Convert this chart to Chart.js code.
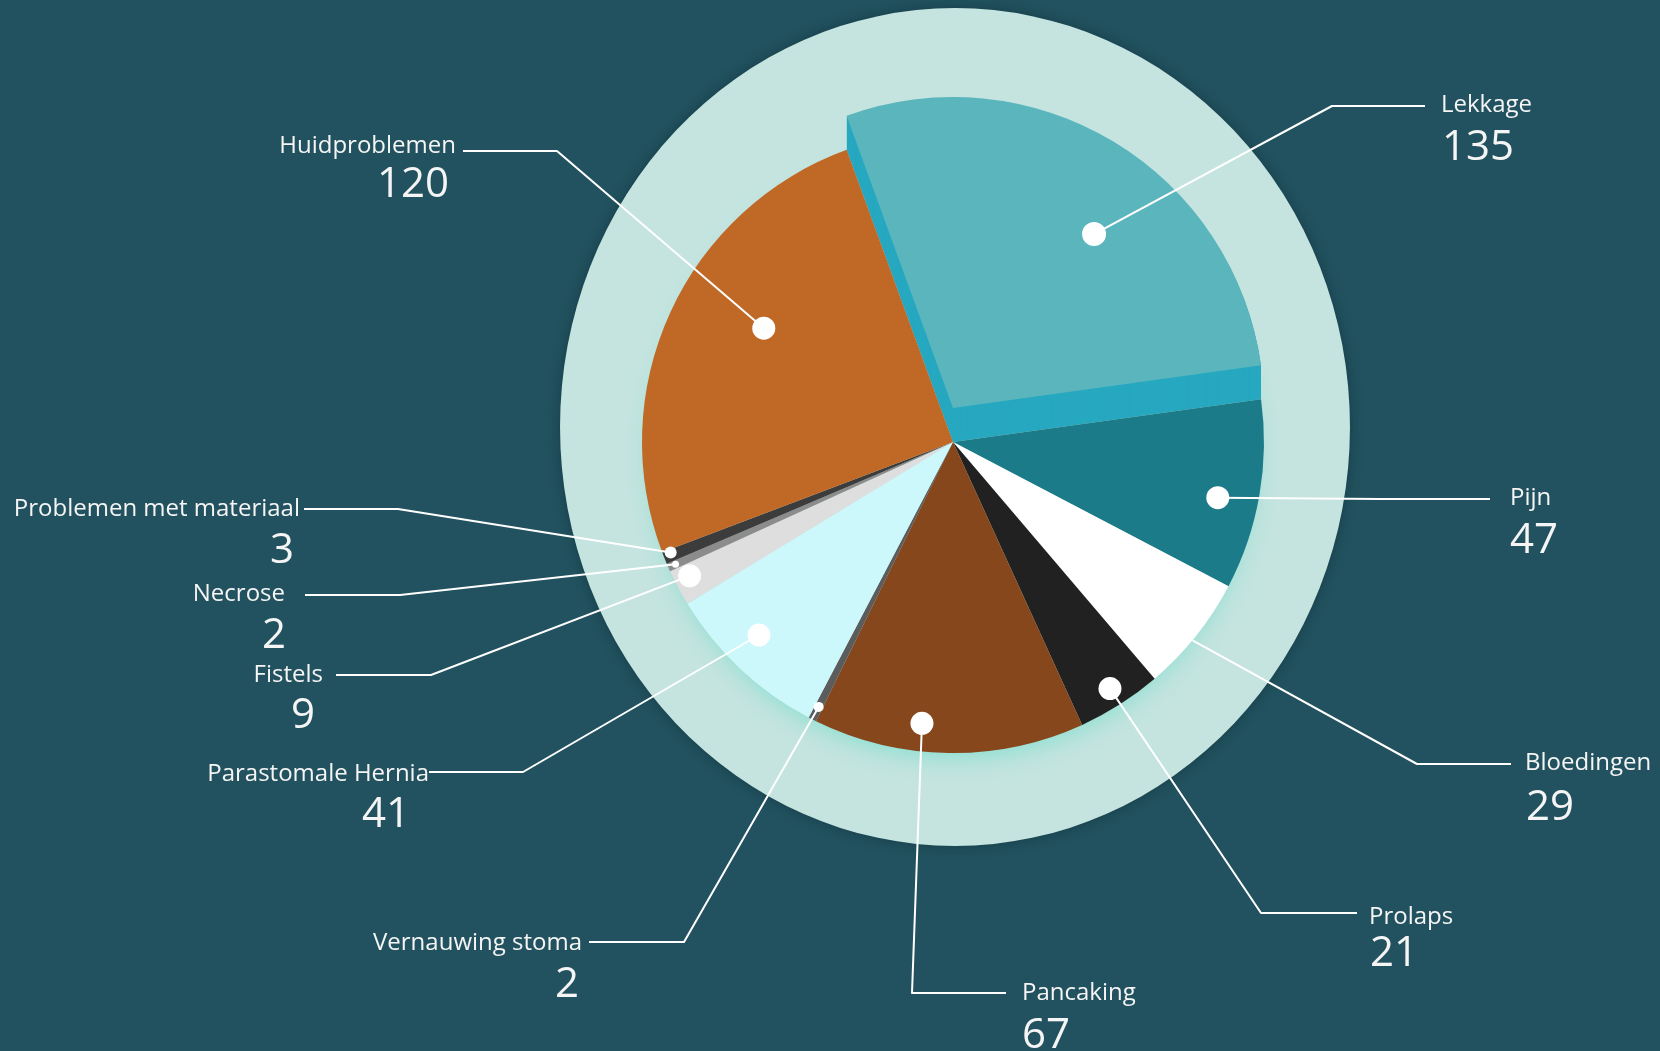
<!DOCTYPE html>
<html>
<head>
<meta charset="utf-8">
<script src="https://cdn.jsdelivr.net/npm/chart.js@4.4.1/dist/chart.umd.min.js"></script>
<style>
  html, body { margin: 0; padding: 0; background: #22525f; }
  canvas { display: block; }
</style>
</head>
<body>
<canvas id="pieChart" width="1660" height="1051"></canvas>
<script>
const categories = ['Lekkage', 'Pijn', 'Bloedingen', 'Prolaps', 'Pancaking', 'Vernauwing stoma',
  'Parastomale Hernia', 'Fistels', 'Necrose', 'Problemen met materiaal', 'Huidproblemen'];
const counts = [135, 47, 29, 21, 67, 2, 41, 9, 2, 3, 120];
const sliceColors = ['#27a8c0', '#1c7b88', '#ffffff', '#212121', '#87471c', '#5c5c5c',
  '#ccf7fb', '#dedede', '#8c8c8c', '#3c3c3c', '#c06826'];
const lekkageTop = '#5bb5bd';
const lift = 34; // height of the raised Lekkage slice

// where each label sits (canvas px) and where its dot goes on the slice
const labelLayout = [
  { nudge: 8,   r: 0.72,  dot: 12,   elbow: [1332, 106], end: 1425, name: [1441, 105], value: [1442, 148], align: 'left' },
  { nudge: 2,   r: 0.87,  dot: 11.5, elbow: [1380, 499], end: 1490, name: [1510, 498], value: [1510, 541], align: 'left' },
  { nudge: 1,   r: 1.0,   dot: 0,    elbow: [1417, 764], end: 1511, name: [1525, 763], value: [1526, 808], align: 'left' },
  { nudge: 0,   r: 0.94,  dot: 11.5, elbow: [1261, 913], end: 1357, name: [1369, 917], value: [1370, 954], align: 'left' },
  { nudge: 5.5, r: 0.91,  dot: 11.5, elbow: [912, 993],  end: 1006, name: [1022, 993], value: [1022, 1036], align: 'left' },
  { nudge: 0,   r: 0.955, dot: 5,    elbow: [684, 942],  end: 589,  name: [582, 943],  value: [579, 985], align: 'right' },
  { nudge: 2,   r: 0.88,  dot: 11.5, elbow: [523, 772],  end: 429,  name: [429, 774],  value: [410, 815], align: 'right' },
  { nudge: 1,   r: 0.95,  dot: 11.5, elbow: [431, 675],  end: 336,  name: [323, 675],  value: [315, 716], align: 'right' },
  { nudge: 0,   r: 0.975, dot: 3.5,  elbow: [400, 595],  end: 305,  name: [285, 594],  value: [286, 636], align: 'right' },
  { nudge: 0.5, r: 0.975, dot: 6,    elbow: [398, 509],  end: 304,  name: [300, 509],  value: [294, 551], align: 'right' },
  { nudge: 6.4, r: 0.71,  dot: 11.5, elbow: [557, 151],  end: 463,  name: [456, 146],  value: [449, 185], align: 'right' }
];

const ringAndGlow = {
  id: 'ringAndGlow',
  beforeDatasetsDraw(chart) {
    const arc = chart.getDatasetMeta(0).data[0];
    const ctx = chart.ctx;
    const R = arc.outerRadius;
    ctx.save();
    // outer pale ring
    ctx.shadowColor = 'rgba(10,40,50,0.5)';
    ctx.shadowBlur = 12;
    ctx.fillStyle = '#c5e4df';
    ctx.beginPath();
    ctx.ellipse(arc.x + 2, arc.y - 15, R * 1.27, R * 1.347, 0, 0, Math.PI * 2);
    ctx.fill();
    // soft aqua glow under the pie, mostly at the bottom
    ctx.shadowColor = 'rgba(130,222,208,0.95)';
    ctx.shadowBlur = 24;
    ctx.shadowOffsetY = 14;
    ctx.fillStyle = '#c5e4df';
    ctx.beginPath();
    ctx.arc(arc.x, arc.y, R - 10, 0, Math.PI * 2);
    ctx.fill();
    ctx.restore();
  }
};

const raisedSliceAndLabels = {
  id: 'raisedSliceAndLabels',
  afterDatasetsDraw(chart) {
    const ctx = chart.ctx;
    const arcs = chart.getDatasetMeta(0).data;
    const lek = arcs[0];

    // extrude the Lekkage slice upwards
    ctx.save();
    for (let dy = 1; dy < lift; dy++) {
      ctx.save();
      ctx.translate(0, -dy);
      lek.draw(ctx);
      ctx.restore();
    }
    const opts = lek.options;
    lek.options = Object.assign({}, opts, { backgroundColor: lekkageTop });
    ctx.translate(0, -lift);
    lek.draw(ctx);
    lek.options = opts;
    ctx.restore();

    // leader lines, dots and texts
    const dots = [];
    ctx.save();
    ctx.strokeStyle = '#ffffff';
    ctx.lineWidth = 2;
    ctx.lineJoin = 'round';
    arcs.forEach((a, i) => {
      const L = labelLayout[i];
      const ang = (a.startAngle + a.endAngle) / 2 + L.nudge * Math.PI / 180;
      const dx = a.x + Math.cos(ang) * a.outerRadius * L.r;
      const dyy = a.y + Math.sin(ang) * a.outerRadius * L.r - (i === 0 ? lift : 0);
      dots.push([dx, dyy, L.dot]);
      ctx.beginPath();
      ctx.moveTo(dx, dyy);
      ctx.lineTo(L.elbow[0], L.elbow[1]);
      ctx.lineTo(L.end, L.elbow[1]);
      ctx.stroke();
    });
    ctx.fillStyle = '#ffffff';
    dots.forEach(([x, y, s]) => {
      if (!s) return;
      ctx.beginPath();
      ctx.arc(x, y, s, 0, Math.PI * 2);
      ctx.fill();
    });
    ctx.fillStyle = '#f5f5f5';
    ctx.textBaseline = 'middle';
    labelLayout.forEach((L, i) => {
      ctx.textAlign = L.align;
      ctx.font = '24px "Open Sans"';
      ctx.fillText(categories[i], L.name[0], L.name[1]);
      ctx.font = '42px "Open Sans"';
      ctx.fillText(String(counts[i]), L.value[0], L.value[1]);
    });
    ctx.restore();
  }
};

new Chart(document.getElementById('pieChart'), {
  type: 'pie',
  data: {
    labels: categories,
    datasets: [{
      data: counts,
      backgroundColor: sliceColors,
      borderWidth: 0
    }]
  },
  options: {
    responsive: false,
    animation: false,
    devicePixelRatio: 1,
    rotation: -20,
    layout: { padding: { left: 642, right: 396, top: 131, bottom: 298 } },
    plugins: { legend: { display: false }, tooltip: { enabled: false } }
  },
  plugins: [ringAndGlow, raisedSliceAndLabels]
});
</script>
</body>
</html>
